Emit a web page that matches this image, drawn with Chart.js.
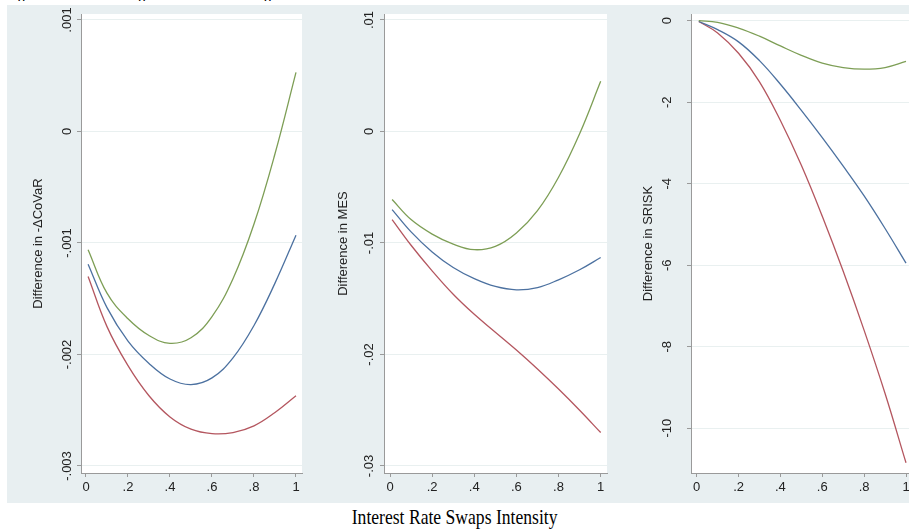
<!DOCTYPE html>
<html>
<head>
<meta charset="utf-8">
<script src="https://cdn.jsdelivr.net/npm/chart.js@4.4.1/dist/chart.umd.min.js"></script>
<style>
  body { margin: 0; width: 909px; height: 532px; background: #fff; overflow: hidden; position: relative; }
  #bg { position: absolute; left: 7px; top: 5px; width: 902px; height: 498px; background: #e8eff1; }
  canvas { position: absolute; top: 5px; }
  #toptext { position: absolute; left: -3px; top: -16px; line-height: 16px; font-family: "Liberation Serif", serif; font-style: italic; font-size: 16px; white-space: nowrap; color: #000; }
  #xtitle { position: absolute; left: 0; width: 909px; top: 503px; line-height: 27px; text-align: center; font-family: "Liberation Serif", serif; font-size: 22px; color: #000; }
  #xtitle span { display: inline-block; transform: scaleX(0.8); }
</style>
</head>
<body>
<div id="bg"></div>
<div id="toptext">y, effect on ΔCoVaR, effect on MES, and effect on SRISK</div>
<canvas id="c1" width="300" height="498" style="left:7px"></canvas>
<canvas id="c2" width="305" height="498" style="left:307px"></canvas>
<canvas id="c3" width="297" height="498" style="left:612px"></canvas>
<div id="xtitle"><span>Interest Rate Swaps Intensity</span></div>
<script>
// intensity grid and x ticks shared by all three panels
const xs = [0.01, 0.1, 0.2, 0.3, 0.4, 0.5, 0.6, 0.7, 0.8, 0.9, 1];
const xTicks = [0, 0.2, 0.4, 0.6, 0.8, 1];

// panel 1: difference in -dCoVaR
const covarTicks = [-0.003, -0.002, -0.001, 0, 0.001];
const covarGreen = [-0.00106, -0.00145, -0.00168, -0.00183, -0.00190, -0.00185, -0.00166, -0.00132, -0.00083, -0.00020, 0.00053];
const covarBlue = [-0.00119, -0.00158, -0.00188, -0.00208, -0.00222, -0.00227, -0.00221, -0.00203, -0.00174, -0.00136, -0.00093];
const covarRed = [-0.00130, -0.00175, -0.00210, -0.00237, -0.00256, -0.00267, -0.00271, -0.00270, -0.00264, -0.00252, -0.00237];

// panel 2: difference in MES
const mesTicks = [-0.03, -0.02, -0.01, 0, 0.01];
const mesGreen = [-0.0061, -0.0079, -0.0092, -0.0101, -0.0106, -0.0103, -0.0091, -0.0071, -0.0041, -0.0002, 0.0045];
const mesBlue = [-0.0070, -0.0090, -0.0108, -0.0122, -0.0132, -0.0139, -0.0142, -0.0140, -0.0133, -0.0124, -0.0113];
const mesRed = [-0.0079, -0.0102, -0.0125, -0.0146, -0.0164, -0.0180, -0.0196, -0.0213, -0.0231, -0.0250, -0.0270];

// panel 3: difference in SRISK
const sriskTicks = [-10, -8, -6, -4, -2, 0];
const sriskGreen = [0, -0.04, -0.18, -0.38, -0.62, -0.85, -1.04, -1.15, -1.19, -1.15, -1.00];
const sriskBlue = [-0.02, -0.22, -0.52, -0.98, -1.56, -2.2, -2.87, -3.57, -4.3, -5.1, -5.95];
const sriskRed = [-0.02, -0.3, -0.8, -1.5, -2.45, -3.55, -4.8, -6.15, -7.6, -9.15, -10.85];

const GREEN = '#7d9e55';
const BLUE = '#4c71a0';
const RED = '#b4565f';
const AXIS = '#9a9a9a';
const FONT = '"Liberation Sans", Arial, sans-serif';

// stata style labels: .2, -.001 ...
function fmt(v) {
  return String(v).replace('0.', '.');
}

const plotBg = {
  id: 'plotBg',
  beforeDraw(chart) {
    const a = chart.chartArea;
    const ctx = chart.ctx;
    ctx.save();
    ctx.fillStyle = '#fff';
    ctx.fillRect(a.left, a.top, a.right - a.left, a.bottom - a.top);
    ctx.restore();
  }
};

function line(ys, color) {
  return {
    data: xs.map((x, i) => ({ x: x, y: ys[i] })),
    borderColor: color,
    borderWidth: 1.3,
    pointRadius: 0,
    fill: false,
    tension: 0.4
  };
}

function makePanel(id, p) {
  return new Chart(document.getElementById(id), {
    type: 'line',
    data: { datasets: [line(p.green, GREEN), line(p.blue, BLUE), line(p.red, RED)] },
    options: {
      responsive: false,
      animation: false,
      layout: { padding: { top: 9, right: p.right, bottom: 0, left: 0 } },
      plugins: { legend: { display: false }, tooltip: { enabled: false } },
      scales: {
        x: {
          type: 'linear',
          min: p.xmin,
          max: p.xmax,
          afterBuildTicks: s => { s.ticks = xTicks.map(v => ({ value: v })); },
          afterFit: s => { s.height = 30; s.paddingLeft = 0; s.paddingRight = 0; },
          grid: { drawOnChartArea: false, tickColor: AXIS, tickLength: 4 },
          border: { color: AXIS },
          ticks: { autoSkip: false, maxRotation: 0, minRotation: 0, padding: 3, color: '#222', font: { family: FONT, size: 13 }, callback: fmt }
        },
        y: {
          min: p.ymin,
          max: p.ymax,
          afterBuildTicks: s => { s.ticks = p.yTicks.map(v => ({ value: v })); },
          afterFit: s => { s.width = p.yWidth; s.paddingTop = 0; s.paddingBottom = 0; },
          grid: { color: '#e9f0f0', tickColor: AXIS, tickLength: 4 },
          border: { color: AXIS },
          ticks: { autoSkip: false, minRotation: 90, maxRotation: 90, crossAlign: 'center', padding: p.tickPad, color: '#222', font: { family: FONT, size: 13 }, callback: fmt },
          title: { display: true, text: p.title, color: '#222', font: { family: FONT, size: 13 }, padding: { top: p.titlePad, bottom: 0 } }
        }
      }
    },
    plugins: [plotBg]
  });
}

makePanel('c1', {
  green: covarGreen, blue: covarBlue, red: covarRed, yTicks: covarTicks,
  title: 'Difference in -ΔCoVaR',
  xmin: -0.0238, xmax: 1.0286, ymin: -0.0030628, ymax: 0.0010538,
  yWidth: 74, right: 5, titlePad: 24, tickPad: -5
});

makePanel('c2', {
  green: mesGreen, blue: mesBlue, red: mesRed, yTicks: mesTicks,
  title: 'Difference in MES',
  xmin: -0.0285, xmax: 1.03, ymin: -0.030628, ymax: 0.010538,
  yWidth: 77, right: 5, titlePad: 29, tickPad: -1
});

makePanel('c3', {
  green: sriskGreen, blue: sriskBlue, red: sriskRed, yTicks: sriskTicks,
  title: 'Difference in SRISK',
  xmin: -0.0272, xmax: 1.0143, ymin: -11.1, ymax: 0.164,
  yWidth: 79, right: 0, titlePad: 29, tickPad: 10
});
</script>
</body>
</html>
